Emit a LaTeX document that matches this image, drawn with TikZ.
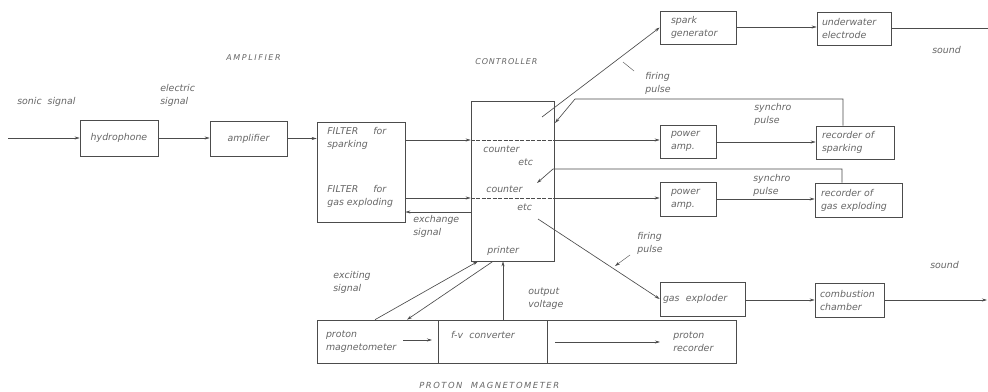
\documentclass[tikz,border=0pt]{standalone}
\usepackage{fontspec}
\setmainfont{DejaVu Sans}
\usetikzlibrary{arrows.meta}
\definecolor{linec}{gray}{0.30}
\definecolor{txtc}{gray}{0.40}
\begin{document}
\begin{tikzpicture}[x=1pt,y=-1pt,
  font=\fontsize{9.4}{13}\selectfont\itshape,
  >={Stealth[length=5pt,width=3pt]},
  line width=0.65pt, draw=linec,
  bx/.style={draw=linec, text=txtc, inner ysep=1pt, align=left},
  tx/.style={text=txtc, inner sep=0pt, anchor=west, align=left},
  captxt/.style={text=txtc, inner sep=0pt, anchor=west, font=\fontsize{8}{9}\selectfont\itshape},
  ln/.style={draw=linec, line width=0.65pt}]
\fill[white] (0,0) rectangle (988,391);
\useasboundingbox (0,0) rectangle (988,391);

% boxes
\node[bx, minimum width=78, minimum height=36, align=center] (hyd) at (119,138) {hydrophone};
\node[bx, minimum width=77, minimum height=35, align=center] (amp) at (248.5,138.5) {amplifier};
\node[bx, minimum width=88, minimum height=100] (filt) at (361,172) {};
\node[bx, minimum width=83, minimum height=160] (ctrl) at (512.5,181) {};
\node[bx, inner xsep=11, text width=54, minimum height=33] (sg) at (698,27.5) {spark\\generator};
\node[bx, inner xsep=5, text width=64, minimum height=33] (ue) at (854,28.5) {underwater\\electrode};
\node[bx, inner xsep=11, text width=34, minimum height=33] (pa1) at (688,141.5) {power\\amp.};
\node[bx, inner xsep=11, text width=34, minimum height=34] (pa2) at (688,199) {power\\amp.};
\node[bx, inner xsep=6, text width=66, minimum height=33] (rs) at (855,142.5) {recorder of\\sparking};
\node[bx, inner xsep=6, text width=75, minimum height=34] (rg) at (858.5,200) {recorder of\\gas exploding};
\node[bx, inner xsep=3, text width=79, minimum height=34] (ge) at (702.5,299) {gas\ \ exploder};
\node[bx, inner xsep=5, text width=59, minimum height=34] (cc) at (849.5,300) {combustion\\chamber};
\node[bx, inner xsep=9, text width=103, minimum height=43] (pm) at (377.5,341.5) {proton\\magnetometer};
\node[bx, inner xsep=13, text width=83, minimum height=43] (fv) at (492.5,341.5) {f-v\ \ converter\\\mbox{}};
\node[bx, minimum width=189, minimum height=43] (pr) at (641.5,341.5) {};

% texts
\node[tx] (tsonic) at (17,102) {sonic\ \ signal};
\node[tx] (telec) at (160,95) {electric\\signal};
\node[captxt, font=\fontsize{8}{9}\selectfont\itshape\addfontfeature{LetterSpace=20}] (tamp) at (226,58) {AMPLIFIER};
\node[captxt, font=\fontsize{8}{9}\selectfont\itshape\addfontfeature{LetterSpace=11}] (tctrl) at (475,62) {CONTROLLER};
\node[tx] (tf1) at (327,138.5) {FILTER\hspace{15pt}for\\sparking};
\node[tx] (tf2) at (327,196) {FILTER\hspace{15pt}for\\gas exploding};
\node[tx] (tc1) at (483,149) {counter};
\node[tx] (te1) at (518,162) {etc};
\node[tx] (tc2) at (486,189) {counter};
\node[tx] (te2) at (517,207) {etc};
\node[tx] (tpri) at (487,251) {printer};
\node[tx] (texch) at (413,226) {exchange\\signal};
\node[tx] (texc) at (333,282) {exciting\\signal};
\node[tx] (tout) at (528,299) {output\\voltage};
\node[captxt, font=\fontsize{8.4}{9}\selectfont\itshape\addfontfeature{LetterSpace=18}] (tpmag) at (419,385) {PROTON\ \ MAGNETOMETER};
\node[tx] (tfp1) at (645,83) {firing\\pulse};
\node[tx] (tsy1) at (754,114) {synchro\\pulse};
\node[tx] (tsy2) at (753,185) {synchro\\pulse};
\node[tx] (tfp2) at (637,243) {firing\\pulse};
\node[tx] (tsnd1) at (932,50) {sound};
\node[tx] (tsnd2) at (930,265) {sound};
\node[tx] (tpr) at (673,342) {proton\\recorder};

% connectors
\coordinate (in) at (8,138);
\draw[ln,->] (in) -- (hyd.west);
\draw[ln,->] (hyd.east) -- (hyd.east -| amp.west);
\draw[ln,->] (amp.east) -- (amp.east -| filt.west);
\draw[ln,->] (filt.east |- 0,140) -- (ctrl.west |- 0,140);
\draw[ln,dash pattern=on 4pt off 1.5pt] (ctrl.west |- 0,140) -- (ctrl.east |- 0,140);
\draw[ln,->] (ctrl.east |- 0,140) -- (pa1.west |- 0,140);
\draw[ln,->] (filt.east |- 0,198) -- (ctrl.west |- 0,198);
\draw[ln,dash pattern=on 4pt off 1.5pt] (ctrl.west |- 0,198) -- (ctrl.east |- 0,198);
\draw[ln,->] (ctrl.east |- 0,198) -- (pa2.west |- 0,198);
\draw[ln,->] (ctrl.west |- 0,212) -- (filt.east |- 0,212);
\draw[ln,->] (pa1.east |- 0,142) -- (rs.west |- 0,142);
\draw[ln,->] (pa2.east |- 0,199) -- (rg.west |- 0,199);
\draw[ln,->] (sg.east |- 0,27) -- (ue.west |- 0,27);
\coordinate (o1) at (988,28);
\draw[ln] (ue.east |- o1) -- (o1);
\draw[ln,->] (ge.east |- 0,300) -- (cc.west |- 0,300);
\coordinate (o2) at (987,300);
\draw[ln,->] (cc.east |- o2) -- (o2);
\coordinate (f1) at (542,117);
\draw[ln,->] (f1) -- (sg.west);
\coordinate (s1a) at (575,99);
\coordinate (s1b) at (555,123);
\draw[ln,->] (rs.north -| 843,0) |- (s1a) -- (s1b);
\coordinate (s2a) at (553,169);
\coordinate (s2b) at (537,183);
\draw[ln,->] (rg.north -| 842,0) |- (s2a) -- (s2b);
\coordinate (f2) at (538,219);
\draw[ln,->] (f2) -- (ge.west);
\draw[ln,->] (pm.north -| 375,0) -- (ctrl.south -| 478,0);
\draw[ln,->] (ctrl.south -| 493,0) -- (pm.north -| 407,0);
\draw[ln,->] (fv.north -| 503,0) -- (ctrl.south -| 503,0);
\coordinate (pma) at (403,340);
\coordinate (pmb) at (432,340);
\draw[ln,->] (pma) -- (pmb);
\coordinate (pra) at (555,342);
\coordinate (prb) at (660,342);
\draw[ln,->] (pra) -- (prb);
% label leaders
\coordinate (l1a) at (634,71);
\coordinate (l1b) at (623,62);
\draw[ln,line width=0.4pt] (l1a) -- (l1b);
\coordinate (l2a) at (630,255);
\coordinate (l2b) at (615,266);
\draw[ln,line width=0.4pt,->] (l2a) -- (l2b);
\end{tikzpicture}
\end{document}
